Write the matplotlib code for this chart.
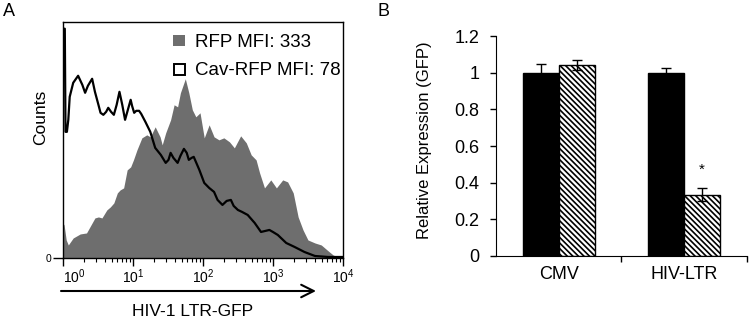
import numpy as np
import matplotlib.pyplot as plt
from matplotlib.patches import Rectangle

plt.rcParams['font.family'] = ['Liberation Sans', 'DejaVu Sans']
plt.rcParams['mathtext.fontset'] = 'custom'
plt.rcParams['mathtext.rm'] = 'Liberation Sans'
plt.rcParams['hatch.linewidth'] = 1.2

# Panel A: flow histograms (x in decades of GFP intensity, y in counts)
rfp_log = [0.0, 0.02, 0.05, 0.08, 0.15, 0.25, 0.34, 0.42, 0.46, 0.51, 0.56, 0.63, 0.68,
           0.73, 0.78, 0.82, 0.87, 0.92, 0.97, 1.01, 1.06, 1.13, 1.2, 1.25, 1.32, 1.39,
           1.42, 1.47, 1.54, 1.59, 1.64, 1.68, 1.75, 1.8, 1.85, 1.9, 1.96, 2.02, 2.09,
           2.16, 2.23, 2.3, 2.38, 2.45, 2.54, 2.62, 2.69, 2.76, 2.81, 2.88, 2.97, 3.05,
           3.14, 3.21, 3.29, 3.36, 3.43, 3.5, 3.6, 3.69, 3.79, 3.86, 3.93, 4.0]
rfp_counts = [35, 33, 18, 13, 20, 24, 25, 35, 40, 41, 40, 48, 51, 55, 65, 68, 70, 88, 91,
              98, 108, 120, 123, 121, 131, 121, 113, 125, 138, 153, 151, 165, 179, 165,
              148, 141, 145, 120, 133, 121, 118, 120, 116, 110, 122, 115, 103, 98, 85,
              70, 78, 70, 78, 76, 65, 41, 28, 18, 15, 13, 7, 3, 1, 1]

cav_log = [0.0, 0.0, 0.03, 0.04, 0.06, 0.08, 0.1, 0.15, 0.22, 0.28, 0.32, 0.36, 0.42, 0.46,
           0.51, 0.54, 0.58, 0.62, 0.65, 0.69, 0.73, 0.77, 0.81, 0.85, 0.89, 0.93, 0.97,
           0.99, 1.02, 1.05, 1.09, 1.12, 1.18, 1.25, 1.32, 1.4, 1.47, 1.51, 1.54, 1.58,
           1.64, 1.68, 1.73, 1.77, 1.8, 1.84, 1.87, 1.95, 2.02, 2.09, 2.16, 2.21, 2.28,
           2.34, 2.4, 2.44, 2.5, 2.56, 2.64, 2.74, 2.83, 2.89, 2.95, 3.0, 3.07, 3.19,
           3.31, 3.45, 3.6, 3.79, 4.0]
cav_counts = [0, 229, 229, 126, 126, 138, 161, 175, 182, 173, 165, 172, 179, 166, 153, 145,
              143, 146, 150, 146, 143, 153, 166, 153, 138, 148, 158, 152, 145, 147, 147,
              144, 136, 126, 110, 103, 95, 98, 105, 100, 95, 102, 109, 105, 98, 100, 101,
              88, 75, 70, 66, 58, 53, 57, 58, 52, 48, 46, 43, 35, 26, 27, 28, 26, 23, 15,
              11, 6, 2, 1, 1]

decades = [1, 10, 100, 1000, 10000]
decade_labels = ['$10^{0}$', '$10^{1}$', '$10^{2}$', '$10^{3}$', '$10^{4}$']

# Panel B: relative expression
groups = ['CMV', 'HIV-LTR']
rfp_expr = [1.0, 1.0]
rfp_err = [0.05, 0.027]
cav_expr = [1.04, 0.335]
cav_err = [0.027, 0.037]
y_ticks = [0, 0.2, 0.4, 0.6, 0.8, 1.0, 1.2]
y_labels = ['0', '0.2', '0.4', '0.6', '0.8', '1', '1.2']

fig = plt.figure(figsize=(7.5, 3.22), dpi=100)

# ---- panel A
axA = fig.add_axes([0.0836, 0.1988, 0.3737, 0.7338])
xr = 10 ** np.array(rfp_log)
xc = 10 ** np.array(cav_log)
axA.fill_between(xr, 0, rfp_counts, color='#6e6e6e', lw=0)
axA.plot(xc, cav_counts, color='black', lw=1.6)
axA.set_xscale('log')
axA.set_xlim(1, 1e4)
axA.set_ylim(0, 236)
axA.set_xticks(decades)
axA.set_xticklabels(decade_labels, fontsize=10)
axA.get_xticklabels()[0].set_ha('left')
axA.tick_params(axis='x', which='major', length=6, width=1, pad=1)
axA.tick_params(axis='x', which='minor', length=3, width=0.8)
axA.set_yticks([0])
axA.set_yticklabels(['0'], fontsize=7.5)
axA.tick_params(axis='y', length=7, width=1, pad=1)
for s in axA.spines.values():
    s.set_linewidth(1)

# legend drawn by hand
fig.patches.append(Rectangle((173 / 750, 1 - 46 / 322), 12 / 750, 11 / 322,
                             transform=fig.transFigure, facecolor='#6e6e6e', edgecolor='none'))
fig.patches.append(Rectangle((174 / 750, 1 - 74.5 / 322), 11 / 750, 11 / 322,
                             transform=fig.transFigure, facecolor='white', edgecolor='black', lw=1.4))
fig.text(195 / 750, 1 - 46.7 / 322, 'RFP MFI: 333', fontsize=13.5, va='baseline')
fig.text(195 / 750, 1 - 75 / 322, 'Cav-RFP MFI: 78', fontsize=13.5, va='baseline')

fig.text(41 / 750, 1 - 117.5 / 322, 'Counts', fontsize=12.5, rotation=90, ha='center', va='center')
axA.annotate('', xy=(316 / 750, 1 - 291 / 322), xytext=(61 / 750, 1 - 291 / 322),
             xycoords='figure fraction', textcoords='figure fraction', annotation_clip=False,
             arrowprops=dict(arrowstyle='->,head_length=0.9,head_width=0.45', lw=1.5,
                             color='black', shrinkA=0, shrinkB=0))
fig.text(193 / 750, 1 - 312 / 322, 'HIV-1 LTR-GFP', fontsize=12.5, ha='center', va='center')
fig.text(9 / 750, 1 - 12 / 322, 'A', fontsize=13, ha='center', va='center')

# ---- panel B
axB = fig.add_axes([0.6613, 0.205, 0.3347, 0.683])
x = np.arange(len(groups))
w = 0.285
axB.bar(x - w / 2, rfp_expr, w, color='black', edgecolor='black', lw=1)
axB.bar(x + w / 2, cav_expr, w, color='white', edgecolor='black', lw=1, hatch='\\\\\\\\\\\\')
axB.errorbar(x - w / 2, rfp_expr, yerr=rfp_err, fmt='none', ecolor='black', elinewidth=1,
             capsize=3.5, capthick=1)
axB.errorbar(x + w / 2, cav_expr, yerr=cav_err, fmt='none', ecolor='black', elinewidth=1,
             capsize=3.5, capthick=1)
axB.text(x[1] + w / 2, 0.47, '*', fontsize=11, ha='center', va='center')
axB.set_xlim(-0.5, 1.5)
axB.set_ylim(0, 1.2)
axB.set_yticks(y_ticks)
axB.set_yticklabels(y_labels, fontsize=13)
axB.set_xticks([0.5, 1.5])
axB.set_xticklabels([])
axB.set_xticks(x, minor=True)
axB.set_xticklabels(groups, minor=True, fontsize=13)
axB.tick_params(axis='x', which='minor', length=0, pad=7)
axB.tick_params(axis='x', which='major', length=4, width=1)
axB.tick_params(axis='y', length=4, width=1, pad=8)
axB.spines['top'].set_visible(False)
axB.spines['right'].set_visible(False)
fig.text(425 / 750, 1 - 140 / 322, 'Relative Expression (GFP)', fontsize=12, rotation=90,
         ha='center', va='center')
fig.text(383 / 750, 1 - 12 / 322, 'B', fontsize=13, ha='center', va='center')

fig.savefig('out.png', dpi=100)
